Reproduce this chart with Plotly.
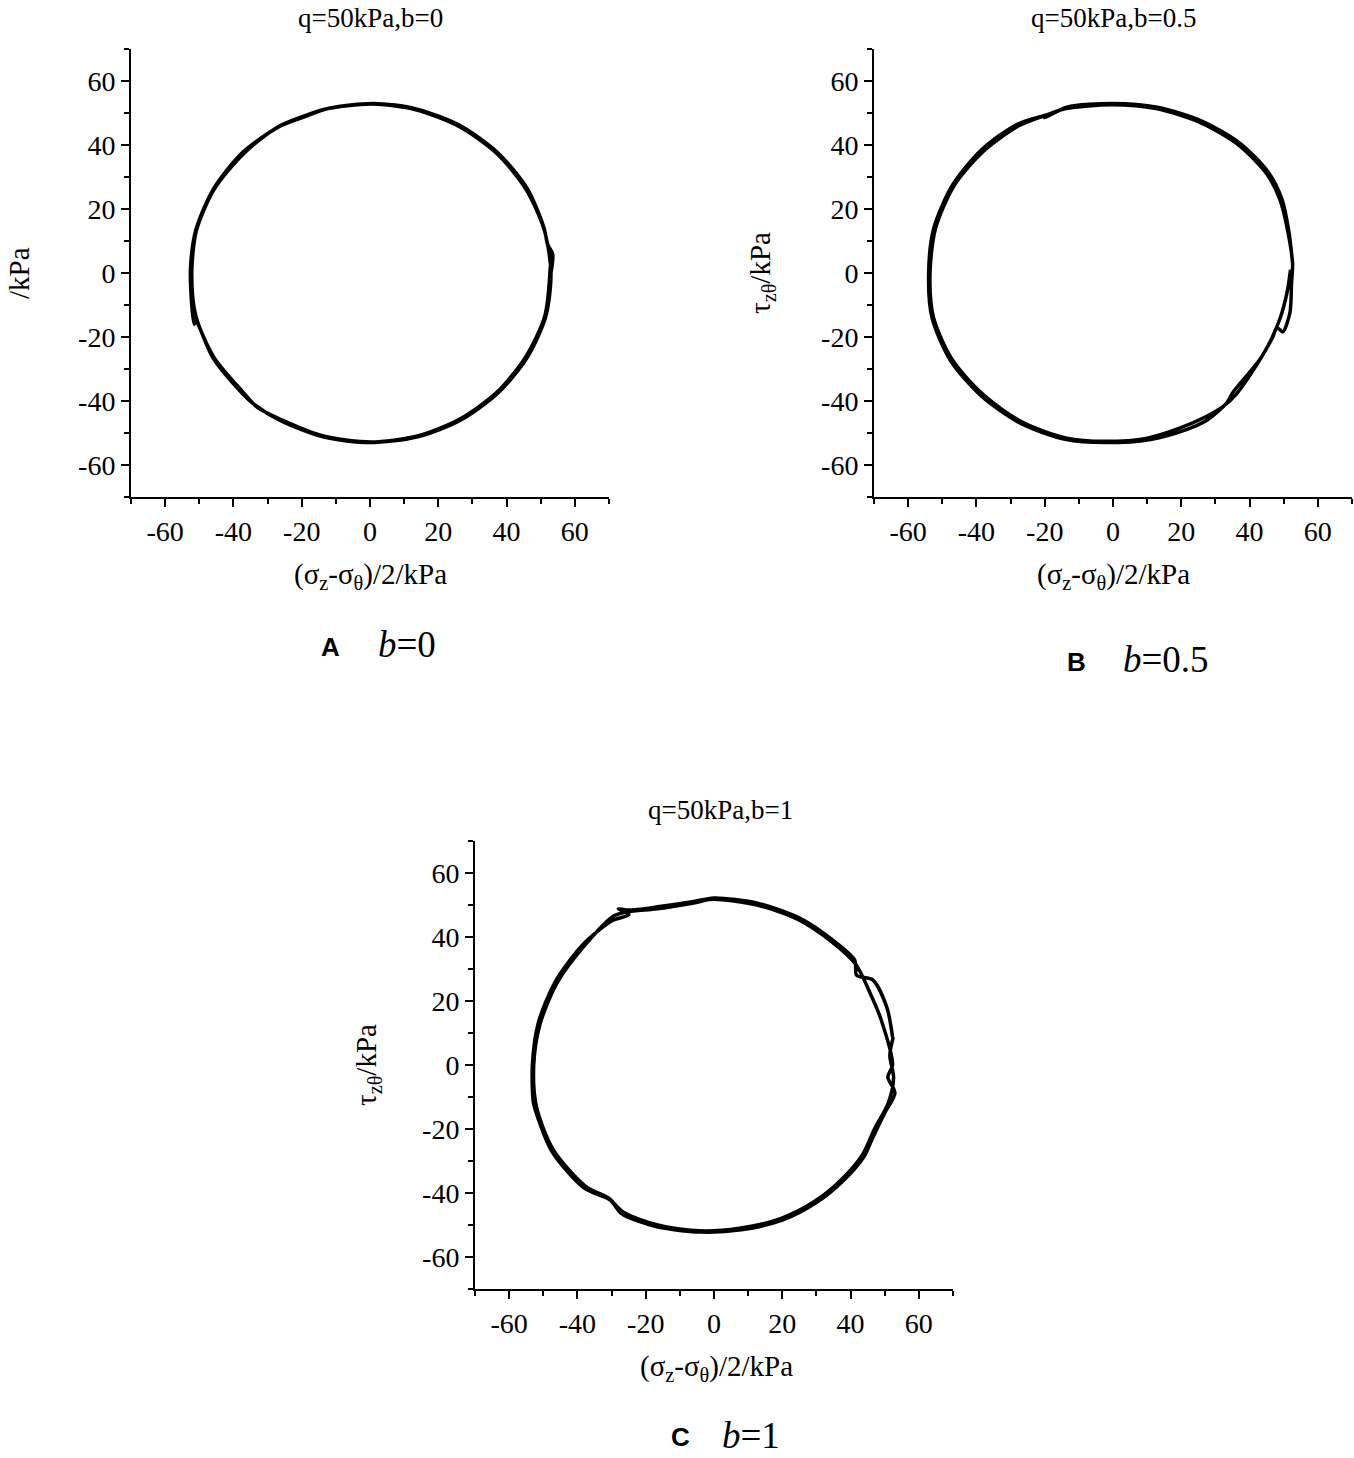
import plotly.graph_objects as go

# ---------------- data ----------------
# Panel A: q=50kPa, b=0  (two overlapping loops)
a_x1 = [53.0, 53.5, 52.0, 51.0, 46.0, 37.5, 26.5, 13.5, 1.0, -12.0, -20.0, -27.0, -37.5, -46.0,
        -51.0, -52.5, -52.5, -51.5, -51.0, -46.0, -37.5, -34.0, -26.5, -13.5, 0.0, 14.0, 26.5,
        37.5, 46.0, 51.5, 53.0]
a_y1 = [0.0, 6.0, 9.0, 14.0, 26.5, 37.5, 46.0, 51.3, 53.0, 51.5, 48.5, 45.5, 37.5, 26.0,
        13.5, 3.0, -5.0, -16.0, -15.0, -26.5, -37.5, -41.0, -46.0, -51.3, -53.0, -51.2, -46.0,
        -37.5, -26.5, -13.5, 0.0]
a_x2 = [51.0, 45.6, 37.2, 26.2, 13.4, 0.5, -13.2, -19.0, -26.8, -37.0, -45.6, -50.8, -52.2,
        -51.0, -45.8, -37.2, -33.0, -26.2, -13.4, 0.3, 13.6, 26.2, 37.2, 45.6, 51.2, 52.8]
a_y2 = [13.6, 26.3, 37.3, 45.7, 51.0, 52.8, 51.2, 49.2, 45.8, 37.3, 26.2, 13.4, 0.0,
        -13.4, -26.2, -37.2, -42.0, -45.7, -51.0, -52.8, -51.0, -45.7, -37.2, -26.2, -13.4, 2.0]

# Panel B: q=50kPa, b=0.5
b_x1 = [52.6, 51.5, 49.5, 45.5, 37.2, 26.0, 13.0, 0.0, -13.5, -20.0, -18.5, -28.0, -38.5, -47.0,
        -52.5, -54.0, -53.0, -47.5, -38.5, -27.0, -14.0, -2.0, 11.0, 20.0, 27.5, 33.3, 35.0,
        43.0, 46.8, 48.0, 49.7, 51.8, 52.3, 52.6]
b_y1 = [3.0, 13.0, 23.0, 31.5, 40.5, 47.5, 51.8, 53.0, 51.8, 48.5, 49.5, 46.5, 38.5, 27.5,
        14.0, 0.0, -14.0, -27.5, -38.5, -47.0, -52.0, -53.0, -52.0, -49.5, -46.0, -40.6, -37.5,
        -27.0, -20.0, -17.0, -18.4, -12.5, -3.0, 3.0]
b_x2 = [51.2, 49.0, 45.0, 36.8, 25.6, 12.6, -0.4, -13.8, -19.0, -27.6, -38.0, -46.6, -52.0,
        -53.6, -52.6, -47.0, -38.0, -26.6, -13.6, -2.4, 10.0, 19.5, 27.0, 32.5, 36.0,
        42.5, 46.0, 49.0, 51.0, 52.0]
b_y2 = [13.0, 22.6, 31.0, 40.0, 47.0, 51.4, 52.6, 51.4, 49.6, 46.0, 38.0, 27.2, 13.8,
        0.0, -13.8, -27.2, -38.0, -46.6, -51.6, -52.6, -51.6, -48.5, -45.0, -41.5, -38.0,
        -28.0, -21.5, -14.0, -6.0, 1.0]

# Panel C: q=50kPa, b=1
c_x1 = [52.3, 50.6, 46.5, 41.8, 41.2, 34.8, 25.1, 13.0, 0.0, -6.4, -16.0, -25.0, -28.0, -24.9,
        -30.0, -38.5, -46.5, -51.5, -53.2, -53.0, -52.5, -47.5, -38.0, -30.4, -27.0, -17.0,
        -4.0, 8.0, 20.0, 30.0, 38.0, 44.0, 46.2, 50.0, 53.0, 50.9, 52.3]
c_y1 = [8.75, 18.1, 26.6, 28.0, 32.8, 39.0, 45.9, 50.5, 52.2, 51.0, 49.5, 48.4, 48.8, 47.0,
        45.0, 37.5, 26.0, 13.0, 0.0, -11.0, -13.5, -27.0, -38.5, -42.2, -46.5, -50.5,
        -52.2, -51.5, -48.5, -43.0, -36.0, -28.5, -23.4, -15.0, -8.75, -3.75, 0.0]
c_x2 = [49.0, 46.2, 41.5, 34.5, 24.6, 12.6, -0.5, -6.0, -16.5, -25.5, -29.5, -38.0, -46.0,
        -51.0, -52.8, -52.0, -47.0, -37.5, -31.0, -26.5, -16.5, -4.5, 7.5, 19.5, 29.5, 37.5,
        43.5, 47.0, 51.0, 52.6, 51.5, 52.5]
c_y2 = [14.0, 21.3, 31.5, 38.5, 45.5, 50.0, 51.8, 50.6, 48.8, 47.8, 46.5, 37.2, 25.6,
        12.6, 0.0, -13.0, -26.6, -38.0, -41.5, -46.0, -50.0, -51.8, -51.0, -48.0, -42.6, -35.6,
        -28.0, -20.0, -12.0, -4.0, 3.0, 8.75]

titles = ["q=50kPa,b=0", "q=50kPa,b=0.5", "q=50kPa,b=1"]
ytitles = ["/kPa", "τ<sub>zθ</sub>/kPa", "τ<sub>zθ</sub>/kPa"]
xtitle = "(σ<sub>z</sub>-σ<sub>θ</sub>)/2/kPa"
caption_letters = ["A", "B", "C"]
caption_texts = ["<i>b</i>=0", "<i>b</i>=0.5", "<i>b</i>=1"]
tick_vals = [-60, -40, -20, 0, 20, 40, 60]
tick_text = ["-60", "-40", "-20", "0", "20", "40", "60"]

# ---------------- layout ----------------
W, H = 1354, 1458
SERIF = "Liberation Serif, Times New Roman, serif"
SANS = "Liberation Sans, Arial, sans-serif"


def px(x):
    return x / W


def py(y):
    return 1 - y / H


# plot-area boxes in page pixels: (left, right, top, bottom)
boxes = [(131, 609, 49, 497), (874, 1352, 49, 497), (475, 953, 841, 1289)]

fig = go.Figure()
series = [(a_x1 + a_x2, a_y1 + a_y2), (b_x1 + b_x2, b_y1 + b_y2), (c_x1 + c_x2, c_y1 + c_y2)]
for i, (xs, ys) in enumerate(series):
    n = "" if i == 0 else str(i + 1)
    fig.add_trace(go.Scatter(
        x=xs, y=ys, mode="lines",
        line=dict(color="black", width=3.5, shape="spline", smoothing=0.8),
        xaxis="x" + n, yaxis="y" + n, showlegend=False, hoverinfo="skip"))

axis_common = dict(
    range=[-70, 70], showgrid=False, zeroline=False, showline=True,
    linecolor="black", linewidth=2, ticks="outside", ticklen=8, tickwidth=2,
    tickcolor="black", tickvals=tick_vals, ticktext=tick_text,
    tickfont=dict(family=SERIF, size=28, color="black"),
    minor=dict(tickvals=[-70, -50, -30, -10, 10, 30, 50, 70], ticks="outside",
               ticklen=5, tickwidth=2, tickcolor="black"),
)

layout = dict(width=W, height=H, margin=dict(l=0, r=0, t=0, b=0),
              paper_bgcolor="white", plot_bgcolor="white", showlegend=False)

for i, (l, r, t, b) in enumerate(boxes):
    n = "" if i == 0 else str(i + 1)
    layout["xaxis" + n] = dict(axis_common, domain=[px(l), px(r)], anchor="y" + n)
    layout["yaxis" + n] = dict(axis_common, domain=[py(b), py(t)], anchor="x" + n)

fig.update_layout(**layout)

# text annotations (page pixel centres)
title_pos = [(370, 18), (1113, 18), (720, 810)]
xtitle_pos = [(370, 576), (1113, 576), (716, 1368)]
ytitle_pos = [(19, 273), (762, 273), (368, 1065)]
letter_pos = [(330, 647), (1076, 662), (680, 1437)]
cap_pos = [(407, 644), (1166, 660), (751, 1435)]

for i in range(3):
    fig.add_annotation(x=px(title_pos[i][0]), y=py(title_pos[i][1]), xref="paper", yref="paper",
                       text=titles[i], showarrow=False, xanchor="center", yanchor="middle",
                       font=dict(family=SERIF, size=27, color="black"))
    fig.add_annotation(x=px(xtitle_pos[i][0]), y=py(xtitle_pos[i][1]), xref="paper", yref="paper",
                       text=xtitle, showarrow=False, xanchor="center", yanchor="middle",
                       font=dict(family=SERIF, size=29, color="black"))
    fig.add_annotation(x=px(ytitle_pos[i][0]), y=py(ytitle_pos[i][1]), xref="paper", yref="paper",
                       text=ytitles[i], showarrow=False, xanchor="center", yanchor="middle",
                       textangle=-90, font=dict(family=SERIF, size=29, color="black"))
    fig.add_annotation(x=px(letter_pos[i][0]), y=py(letter_pos[i][1]), xref="paper", yref="paper",
                       text="<b>" + caption_letters[i] + "</b>", showarrow=False,
                       xanchor="center", yanchor="middle",
                       font=dict(family=SANS, size=26, color="black"))
    fig.add_annotation(x=px(cap_pos[i][0]), y=py(cap_pos[i][1]), xref="paper", yref="paper",
                       text=caption_texts[i], showarrow=False, xanchor="center", yanchor="middle",
                       font=dict(family=SERIF, size=37, color="black"))

# remove the browser's default 8px page margin so the figure fills the window
fig.write_html("out.html", config={"displayModeBar": False},
               post_script="document.body.style.margin='0';")
